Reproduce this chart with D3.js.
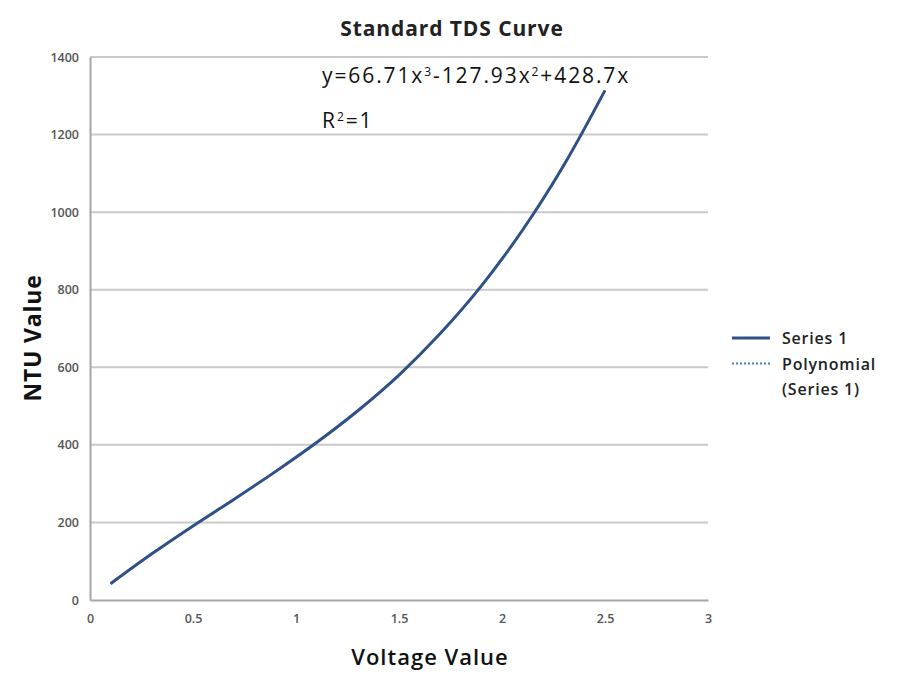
<!DOCTYPE html>
<html lang="en">
<head>
  <meta charset="UTF-8">
  <title>Standard TDS Curve</title>
  <script src="https://cdn.jsdelivr.net/npm/d3@7"></script>
  <style>
    html, body { margin: 0; padding: 0; background: #fff; }
    svg { display: block; font-family: "Open Sans", "Noto Sans", sans-serif; }
  </style>
</head>
<body>
<svg id="chart" width="898" height="676"></svg>
<script>
  // data
  const voltage = [0.1, 0.3, 0.5, 0.7, 0.9, 1.1, 1.3, 1.5, 1.7, 1.9, 2.1, 2.3, 2.5];
  const ntu = [42, 119, 191, 260, 331, 406, 488, 580, 687, 810, 954, 1121, 1314];
  const xTicks = [0, 0.5, 1, 1.5, 2, 2.5, 3];
  const yTicks = [0, 200, 400, 600, 800, 1000, 1200, 1400];
  const legendItems = ['Series 1', 'Polynomial'];

  const width = 898, height = 676;
  const margin = {top: 57, right: 190, bottom: 76, left: 90};
  const lineColor = '#2f5188';

  const svg = d3.select('#chart');

  const x = d3.scaleLinear().domain([0, 3]).range([margin.left, width - margin.right]);
  const y = d3.scaleLinear().domain([0, 1400]).range([height - margin.bottom, margin.top]);

  // gridlines
  svg.append('g')
    .selectAll('line')
    .data(yTicks.filter(d => d > 0))
    .join('line')
    .attr('x1', x(0))
    .attr('x2', x(3))
    .attr('y1', d => y(d))
    .attr('y2', d => y(d))
    .attr('stroke', '#c9c9c9')
    .attr('stroke-width', 2);

  // axes
  const xAxis = svg.append('g')
    .attr('transform', `translate(0,${y(0)})`)
    .call(d3.axisBottom(x).tickValues(xTicks).tickSize(0).tickPadding(14).tickFormat(d3.format('')));
  const yAxis = svg.append('g')
    .attr('transform', `translate(${x(0)},0)`)
    .call(d3.axisLeft(y).tickValues(yTicks).tickSize(0).tickPadding(11).tickFormat(d3.format('d')));

  [xAxis, yAxis].forEach(g => {
    g.select('.domain').attr('stroke', '#a6a6a6').attr('stroke-width', 2);
    g.selectAll('text')
      .attr('fill', '#555')
      .style('font-size', '12.5px')
      .style('font-weight', 600)
      .style('font-family', '"Open Sans", sans-serif');
  });

  const points = voltage.map((v, i) => [v, ntu[i]]);
  const line = d3.line()
    .x(d => x(d[0]))
    .y(d => y(d[1]))
    .curve(d3.curveCatmullRom);

  // polynomial trend (sits under the series)
  svg.append('path')
    .datum(points)
    .attr('d', line)
    .attr('fill', 'none')
    .attr('stroke', '#4a7ebb')
    .attr('stroke-width', 2)
    .attr('stroke-dasharray', '2,2');

  svg.append('path')
    .datum(points)
    .attr('d', line)
    .attr('fill', 'none')
    .attr('stroke', lineColor)
    .attr('stroke-width', 3);

  // title and axis titles
  svg.append('text')
    .attr('x', 452)
    .attr('y', 36)
    .attr('text-anchor', 'middle')
    .style('font-size', '21px')
    .style('font-weight', 700)
    .style('letter-spacing', '0.9px')
    .attr('fill', '#222')
    .text('Standard TDS Curve');

  svg.append('text')
    .attr('x', 430)
    .attr('y', 665)
    .attr('text-anchor', 'middle')
    .style('font-size', '22px')
    .style('font-weight', 600)
    .style('letter-spacing', '1px')
    .attr('fill', '#111')
    .text('Voltage Value');

  svg.append('text')
    .attr('transform', 'translate(41,338) rotate(-90)')
    .attr('text-anchor', 'middle')
    .style('font-size', '23px')
    .style('font-weight', 700)
    .style('letter-spacing', '0.8px')
    .attr('fill', '#111')
    .text('NTU Value');

  // equation
  const eq = svg.append('text')
    .attr('x', 322)
    .attr('y', 83)
    .style('font-size', '21px')
    .style('letter-spacing', '1.9px')
    .attr('fill', '#111');
  eq.append('tspan').text('y=66.71x');
  eq.append('tspan').attr('dy', -7).style('font-size', '12px').text('3');
  eq.append('tspan').attr('dy', 7).text('-127.93x');
  eq.append('tspan').attr('dy', -7).style('font-size', '12px').text('2');
  eq.append('tspan').attr('dy', 7).text('+428.7x');

  const r2 = svg.append('text')
    .attr('x', 322)
    .attr('y', 128)
    .style('font-size', '21px')
    .style('letter-spacing', '1.9px')
    .attr('fill', '#111');
  r2.append('tspan').text('R');
  r2.append('tspan').attr('dy', -7).style('font-size', '12px').text('2');
  r2.append('tspan').attr('dy', 7).text('=1');

  // legend
  const legend = svg.append('g').attr('transform', 'translate(732,0)');
  legend.selectAll('line')
    .data(legendItems)
    .join('line')
    .attr('x1', 0)
    .attr('x2', 38)
    .attr('y1', (d, i) => 338 + i * 25.5)
    .attr('y2', (d, i) => 338 + i * 25.5)
    .attr('stroke', (d, i) => i ? '#4a7ebb' : lineColor)
    .attr('stroke-width', (d, i) => i ? 2 : 3)
    .attr('stroke-dasharray', (d, i) => i ? '2,2' : null);
  legend.selectAll('text')
    .data(legendItems.concat(['(Series 1)']))
    .join('text')
    .attr('x', 50)
    .attr('y', (d, i) => 344 + i * 25.5)
    .style('font-size', '16px')
    .style('font-weight', 600)
    .style('letter-spacing', '0.8px')
    .attr('fill', '#222')
    .text(d => d);
</script>
</body>
</html>
